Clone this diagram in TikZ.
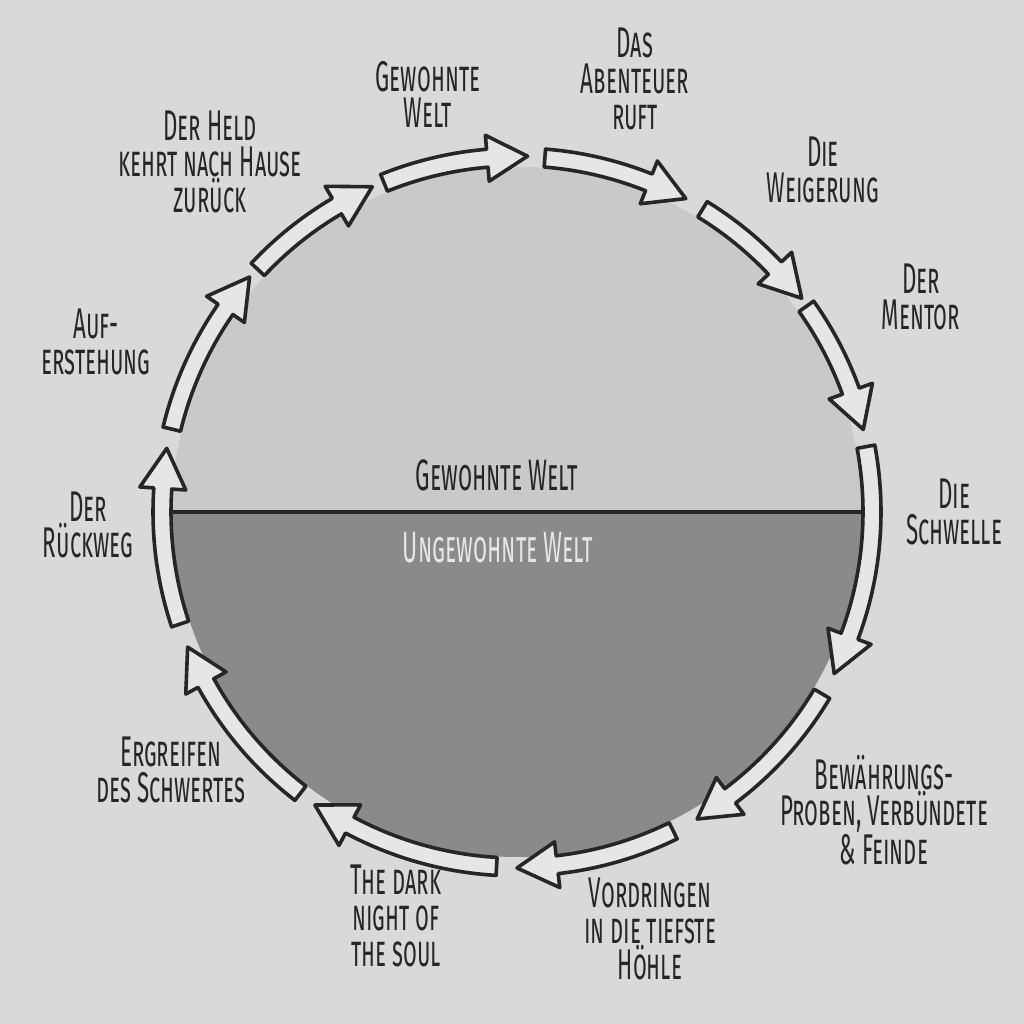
\documentclass[tikz,border=0pt]{standalone}
\usepackage{fontspec}
\setmainfont{Fira Sans}[FakeStretch=0.52]
\definecolor{paper}{HTML}{D9D9D9}
\definecolor{upperg}{HTML}{C9C9C9}
\definecolor{lowerg}{HTML}{8A8A8A}
\definecolor{ink}{HTML}{262626}
\definecolor{arrfill}{HTML}{E6E6E6}
\newcommand\hjarrow[2]{%
  \pgfmathsetmacro\hb{#2+6.5}%
  \draw[arr] (#1:346) arc[start angle=#1, end angle=\hb, radius=346]
    -- (\hb:332) -- (#2:356) -- (\hb:378) -- (\hb:364)
    arc[start angle=\hb, end angle=#1, radius=364] -- cycle;}
\begin{document}
\begin{tikzpicture}[x=1pt,y=1pt,
  arr/.style={draw=ink, fill=arrfill, line width=3.6pt, line join=round},
  lbl/.style={text=ink, align=center, font=\fontsize{43}{36}\selectfont\scshape, inner sep=0pt},
  mid/.style={align=center, font=\fontsize{44}{36}\selectfont\scshape, inner sep=0pt}]
\useasboundingbox (0,0) rectangle (1024,1024);
\fill[paper] (0,0) rectangle (1024,1024);
\begin{scope}[shift={(517,512)}]
  \fill[upperg] (0:345) arc[start angle=0, end angle=180, radius=345] -- cycle;
  \fill[lowerg] (180:345) arc[start angle=180, end angle=360, radius=345] -- cycle;
  \coordinate (hl) at (180:345);
  \coordinate (hr) at (0:345);
  \draw[ink, line width=3.5pt] (hl) -- (hr);
  \hjarrow{112}{88.3}
  \hjarrow{85.5}{61.7}
  \hjarrow{58.5}{36.9}
  \hjarrow{35.4}{13.4}
  \hjarrow{10.6}{-27}
  \hjarrow{-30.8}{-59.6}
  \hjarrow{-63.9}{-90}
  \hjarrow{-93.3}{-124.6}
  \hjarrow{-127.6}{-157.7}
  \hjarrow{198.4}{169.7}
  \hjarrow{166.5}{138.7}
  \hjarrow{136.9}{114}
\end{scope}
\node[mid, text=ink] (gw) at (497,549) {Gewohnte Welt};
\node[mid, text=arrfill] (uw) at (498,476) {Ungewohnte Welt};
\node[lbl] (l1) at (428,930) {Gewohnte\\Welt};
\node[lbl] (l2) at (635,945) {Das\\Abenteuer\\ruft};
\node[lbl] (l3) at (823,854) {Die\\Weigerung};
\node[lbl] (l4) at (921,727) {Der\\Mentor};
\node[lbl] (l5) at (954,512) {Die\\Schwelle};
\node[lbl] (l6) at (884,214) {Bewährungs-\\Proben, Verbündete\\\& Feinde};
\node[lbl] (l7) at (650,95) {Vordringen\\in die tiefste\\Höhle};
\node[lbl] (l8) at (396,108) {The dark\\night of\\the soul};
\node[lbl] (l9) at (171,254) {Ergreifen\\des Schwertes};
\node[lbl] (l10) at (88,499) {Der\\Rückweg};
\node[lbl] (l11) at (96,682) {Auf-\\erstehung};
\node[lbl] (l12) at (210,862) {Der Held\\kehrt nach Hause\\zurück};
\end{tikzpicture}
\end{document}
